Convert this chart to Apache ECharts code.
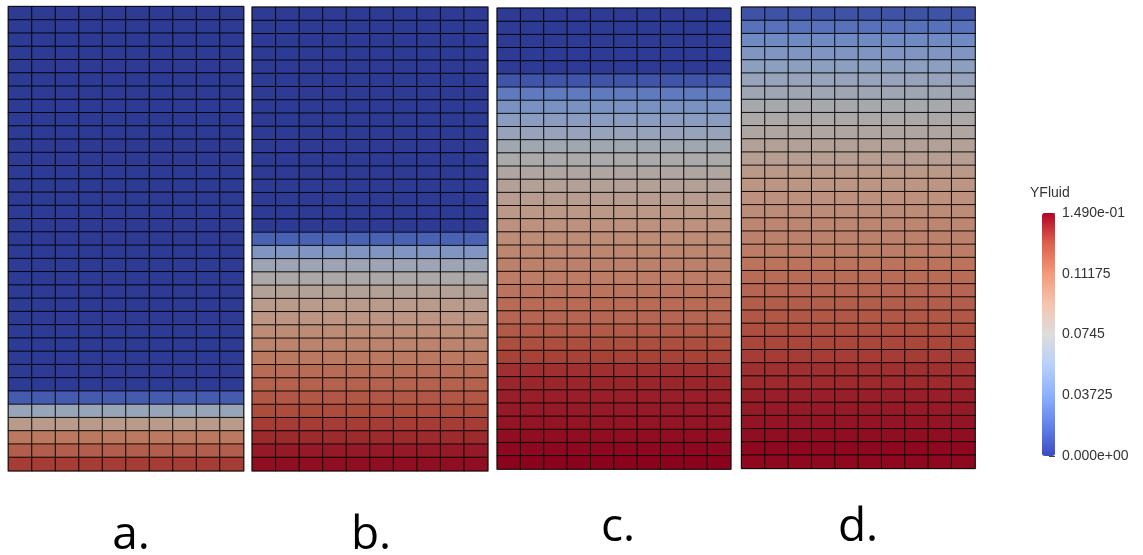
<!DOCTYPE html>
<html>
<head>
<meta charset="utf-8">
<title>YFluid</title>
<script src="https://cdn.jsdelivr.net/npm/echarts@6/dist/echarts.min.js"></script>
<style>
  html, body { margin: 0; padding: 0; background: #ffffff; }
  #chart { width: 1143px; height: 555px; }
</style>
</head>
<body>
<div id="chart"></div>
<script>
// YFluid per cell row, listed top row first (35 rows, 10 identical columns)
const panelA = [
  0, 0, 0, 0, 0, 0, 0, 0, 0, 0,
  0, 0, 0, 0, 0, 0, 0, 0, 0, 0,
  0, 0, 0, 0, 0, 0, 0, 0, 0,
  0.0149, 0.0626, 0.0894, 0.1103, 0.1222, 0.1341
];
const panelB = [
  0, 0, 0, 0, 0, 0, 0, 0, 0, 0,
  0, 0, 0, 0, 0, 0, 0,
  0.0179, 0.0477, 0.0656, 0.0760, 0.0834, 0.0894, 0.0939, 0.0998,
  0.1043, 0.1103, 0.1162, 0.1207, 0.1252, 0.1296, 0.1341, 0.1386,
  0.1430, 0.1460
];
const panelC = [
  0, 0, 0, 0, 0,
  0.0119, 0.0298, 0.0447, 0.0536, 0.0611, 0.0685, 0.0745, 0.0790,
  0.0834, 0.0879, 0.0924, 0.0969, 0.0998, 0.1028, 0.1058, 0.1088,
  0.1132, 0.1162, 0.1192, 0.1237, 0.1281, 0.1326, 0.1371, 0.1401,
  0.1416, 0.1430, 0.1445, 0.1460, 0.1475, 0.1490
];
const panelD = [
  0.0104, 0.0253, 0.0387, 0.0477, 0.0551, 0.0611, 0.0671, 0.0730,
  0.0760, 0.0790, 0.0834, 0.0864, 0.0909, 0.0939, 0.0969, 0.0998,
  0.1028, 0.1058, 0.1088, 0.1132, 0.1162, 0.1192, 0.1222, 0.1252,
  0.1281, 0.1311, 0.1341, 0.1371, 0.1386, 0.1416, 0.1430, 0.1445,
  0.1460, 0.1475, 0.1475
];
const panelLabels = ['a.', 'b.', 'c.', 'd.'];
const columnCount = 10;
const rangeMin = 0;
const rangeMax = 0.149;
const tickStep = 0.03725;
const barTitle = 'YFluid';

const panels = [panelA, panelB, panelC, panelD];

// Panel rectangles and label anchors (layout only)
const boxes = [
  { left: 8.5,   top: 6.7, width: 235,   height: 464,   labelX: 131, labelY: 559 },
  { left: 252.3, top: 7.3, width: 235.4, height: 463.4, labelX: 371, labelY: 559 },
  { left: 497.3, top: 8.3, width: 233.4, height: 460.7, labelX: 618, labelY: 551 },
  { left: 741.7, top: 7.3, width: 233.3, height: 461,   labelX: 858, labelY: 551 }
];

// Cool-to-warm map: shaded tones for the cells, plain tones for the bar
const shadedColors = ['#2d3b94', '#4b64b4', '#6d88c4', '#8ea0c0', '#aaaaaa',
                      '#bd9785', '#bc775f', '#ab4a3b', '#8b031d'];
const barColors = ['#3b4cc0', '#6282ea', '#8db0fe', '#b8d0f9', '#dddddd',
                   '#f5c4ad', '#f49a7b', '#de604d', '#b40426'];

const colCats = Array.from({ length: columnCount }, (_, i) => String(i));

const grids = [], xAxes = [], yAxes = [], series = [], graphics = [];

panels.forEach((rows, p) => {
  const b = boxes[p];
  grids.push({
    left: b.left, top: b.top, width: b.width, height: b.height,
    show: true, borderColor: '#8c8c8c', borderWidth: 2, backgroundColor: 'transparent'
  });
  xAxes.push({ type: 'category', gridIndex: p, data: colCats, show: false });
  yAxes.push({
    type: 'category', gridIndex: p, inverse: true, show: false,
    data: rows.map((_, r) => String(r))
  });
  const data = [];
  rows.forEach((v, r) => {
    for (let c = 0; c < columnCount; c++) data.push([c, r, v]);
  });
  series.push({
    type: 'heatmap', xAxisIndex: p, yAxisIndex: p, data: data,
    itemStyle: { borderColor: 'rgba(0,0,0,0.9)', borderWidth: 1 },
    emphasis: { disabled: true }, silent: true
  });
  graphics.push({
    type: 'text', x: b.labelX, y: b.labelY,
    style: {
      text: panelLabels[p], fill: '#000000',
      font: '46px "Open Sans", sans-serif',
      textAlign: 'center', textVerticalAlign: 'bottom'
    }
  });
});

// Colour bar axis: ticks and labels beside the gradient
const barTop = 213, barHeight = 243, barLeft = 1042, barWidth = 13;
grids.push({ left: 1049, top: barTop, width: barLeft + barWidth - 1049, height: barHeight, show: false });
xAxes.push({ type: 'value', gridIndex: 4, show: false, min: 0, max: 1 });
yAxes.push({
  type: 'value', gridIndex: 4, position: 'right',
  min: rangeMin, max: rangeMax, interval: tickStep,
  axisLine: { show: false },
  axisTick: { show: true, length: 5, lineStyle: { color: '#444444', width: 1 } },
  minorTick: { show: true, splitNumber: 8, length: 5, lineStyle: { color: '#555555', width: 1 } },
  splitLine: { show: true, lineStyle: { color: '#444444', width: 1 } },
  axisLabel: {
    margin: 7, color: '#333333', fontSize: 14, fontFamily: '"Liberation Sans", Arial, sans-serif',
    formatter: function (v) {
      if (Math.abs(v - rangeMin) < 1e-9) return '0.000e+00';
      if (Math.abs(v - rangeMax) < 1e-9) return '1.490e-01';
      return String(+v.toFixed(5));
    }
  }
});
series.push({ type: 'scatter', xAxisIndex: 4, yAxisIndex: 4, data: [], silent: true });

graphics.push({
  type: 'text', x: 1030, y: 186,
  style: { text: barTitle, fill: '#333333', font: '14px "Liberation Sans", Arial, sans-serif' }
});

const chart = echarts.init(document.getElementById('chart'), null, { renderer: 'canvas' });
chart.setOption({
  animation: false,
  backgroundColor: '#ffffff',
  grid: grids,
  xAxis: xAxes,
  yAxis: yAxes,
  visualMap: [
    {
      type: 'continuous', show: false, min: rangeMin, max: rangeMax,
      seriesIndex: [0, 1, 2, 3], inRange: { color: shadedColors }
    },
    {
      type: 'continuous', show: true, min: rangeMin, max: rangeMax,
      seriesIndex: [4], calculable: false, hoverLink: false,
      left: barLeft, top: barTop, itemWidth: barWidth, itemHeight: barHeight,
      padding: 0, text: null, showLabel: false,
      inRange: { color: barColors }
    }
  ],
  series: series,
  graphic: graphics
});
</script>
</body>
</html>
